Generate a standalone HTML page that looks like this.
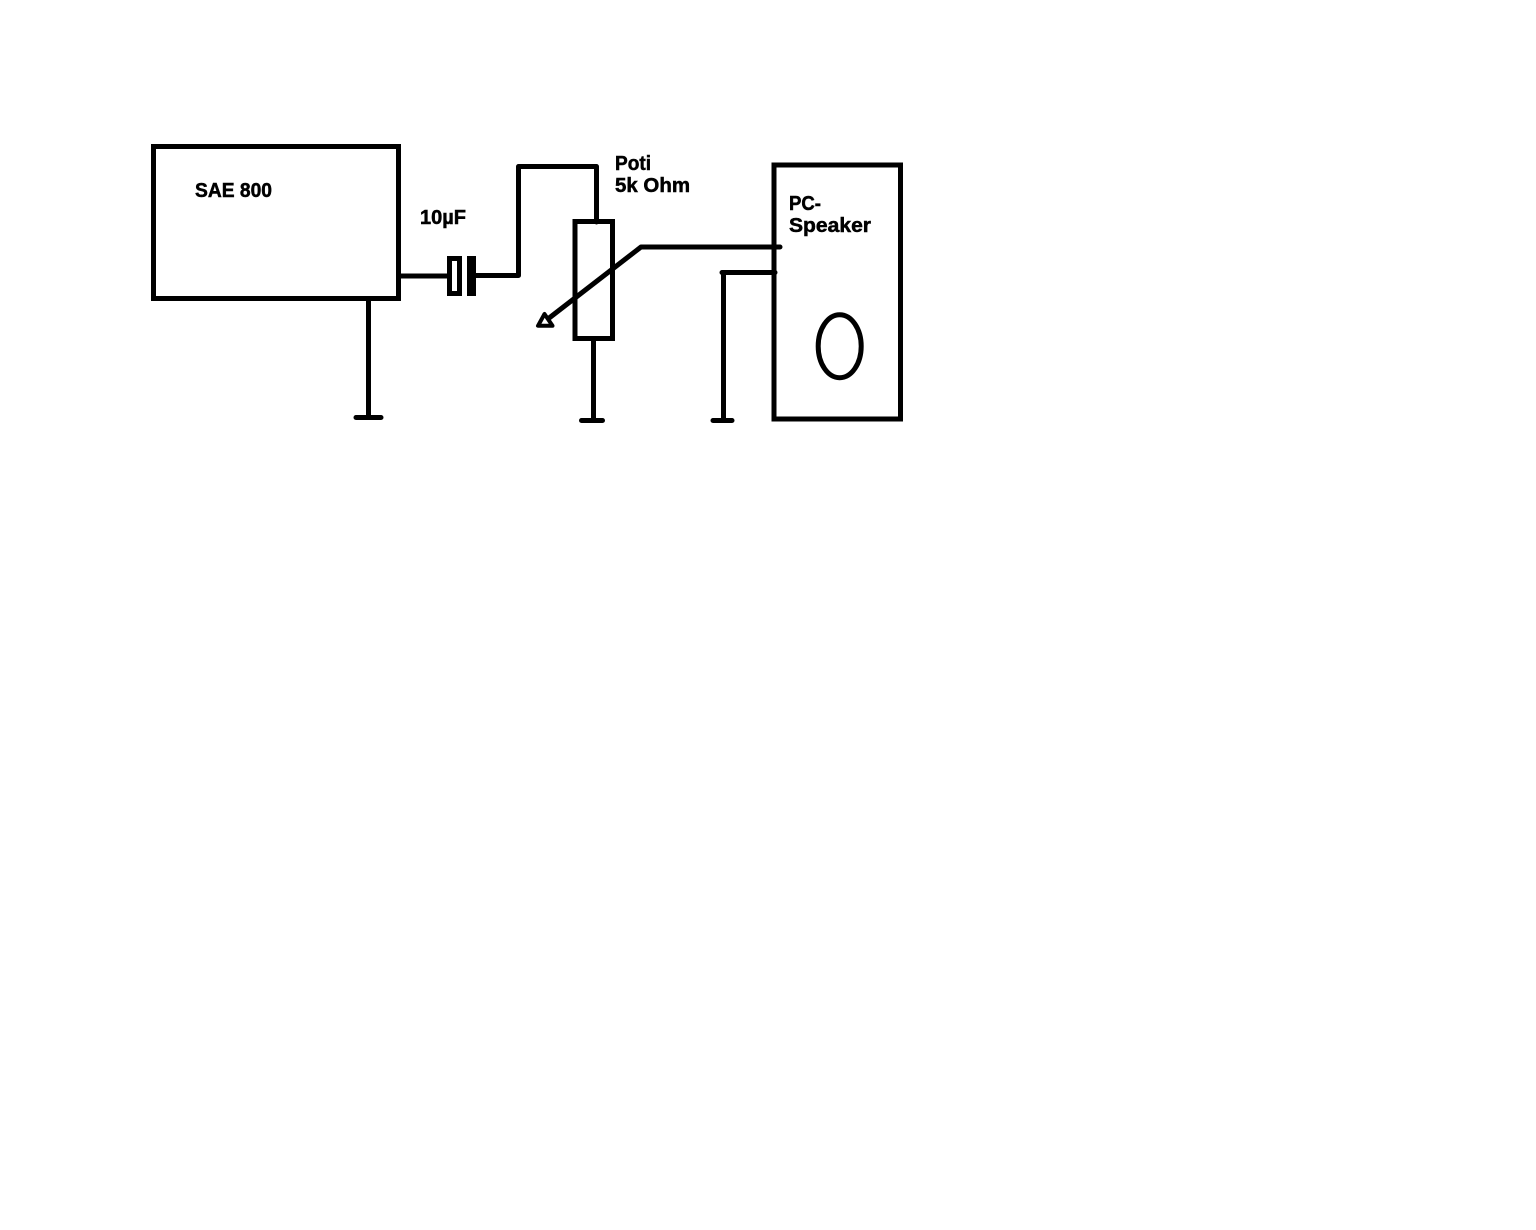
<!DOCTYPE html>
<html>
<head>
<meta charset="utf-8">
<style>
html,body{margin:0;padding:0;background:#fff;width:1536px;height:1230px;overflow:hidden}
svg{display:block}
text{font-family:"Liberation Sans",sans-serif;font-weight:bold;font-size:20px;fill:#000;stroke:#000;stroke-width:.5px}
</style>
</head>
<body>
<svg width="1536" height="1230" viewBox="0 0 1536 1230" xmlns="http://www.w3.org/2000/svg">
<rect width="1536" height="1230" fill="#fff"/>
<g fill="none" stroke="#000" stroke-width="5">
  <rect x="153.5" y="146.5" width="245" height="152"/>
  <path d="M400 276H448"/>
  <rect x="449.5" y="258.5" width="10" height="35"/>
  <rect x="467" y="256" width="9" height="40" fill="#000" stroke="none"/>
  <path d="M476 275.5H518.5V166.5H596.5V222" stroke-linejoin="round" stroke-linecap="round"/>
  <rect x="575" y="221.5" width="37.5" height="117"/>
  <path d="M593.5 340V420"/>
  <path d="M581.5 420.5H602.5" stroke-width="5" stroke-linecap="round"/>
  <path d="M368.5 300V417"/>
  <path d="M356 417.5H381" stroke-width="5" stroke-linecap="round"/>
  <path d="M544.5 314L538 325.8H552.5Z" stroke-linejoin="round" stroke-width="4"/>
  <path d="M780 247H641L548.5 318.5" stroke-linejoin="round" stroke-linecap="butt"/>
  <circle cx="780" cy="247" r="2.5" fill="#000" stroke="none"/>
  <path d="M775 272.5H722" stroke-linecap="round"/>
  <path d="M723.5 272V420"/>
  <path d="M713 420.5H732" stroke-width="5" stroke-linecap="round"/>
  <rect x="774" y="165" width="126.5" height="254"/>
  <ellipse cx="839.7" cy="346.2" rx="21.5" ry="31.5"/>
</g>
<text x="195" y="197" textLength="77" lengthAdjust="spacingAndGlyphs">SAE 800</text>
<text x="420" y="224" textLength="46" lengthAdjust="spacingAndGlyphs">10µF</text>
<text x="615" y="170" textLength="36" lengthAdjust="spacingAndGlyphs">Poti</text>
<text x="615" y="192" textLength="75" lengthAdjust="spacingAndGlyphs">5k Ohm</text>
<text x="789" y="210" textLength="32" lengthAdjust="spacingAndGlyphs">PC-</text>
<text x="789" y="232" textLength="82" lengthAdjust="spacingAndGlyphs">Speaker</text>
</svg>
</body>
</html>
